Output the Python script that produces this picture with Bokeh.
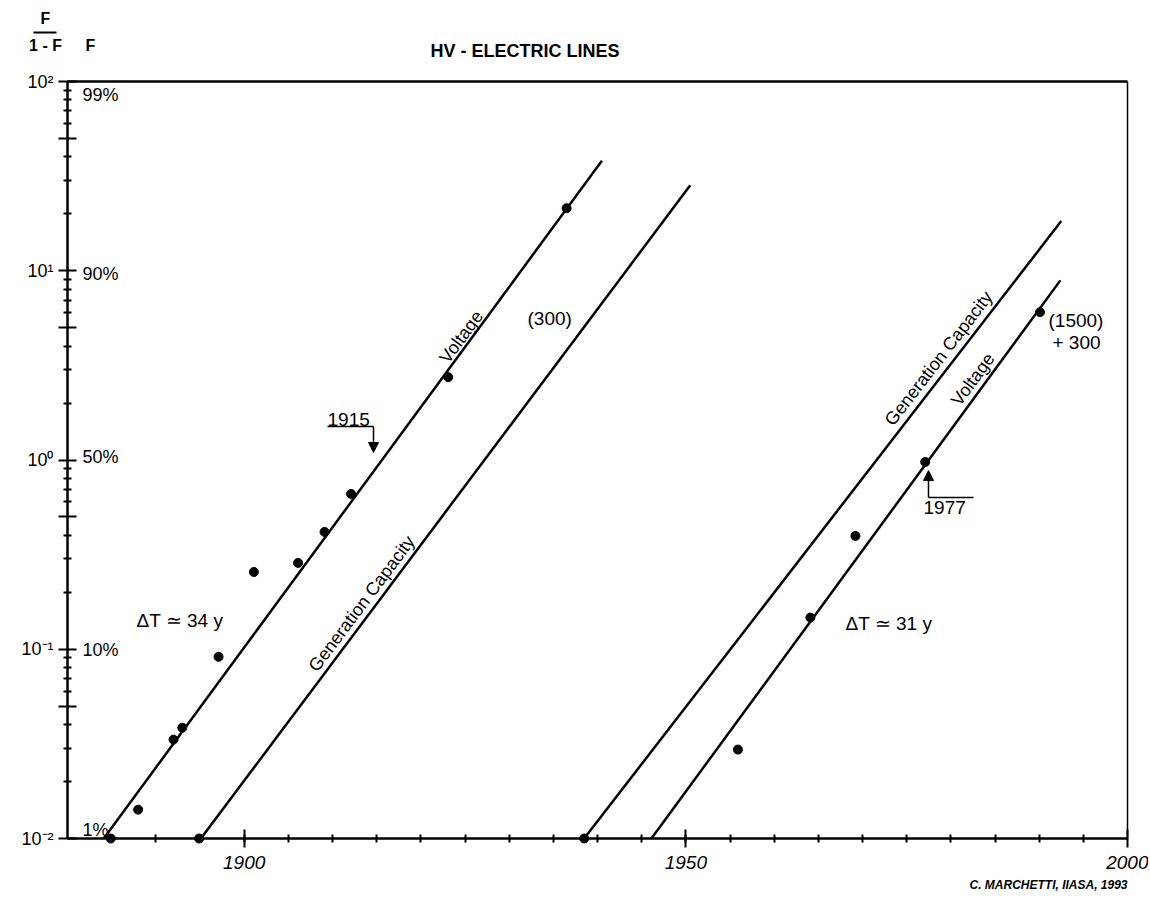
import math
from bokeh.plotting import figure
from bokeh.models import FixedTicker, LinearAxis, LogAxis, Range1d, Arrow, NormalHead, ColumnDataSource
from bokeh.core.properties import value
from bokeh.embed import file_html
from bokeh.resources import INLINE

# ---------------- data ----------------
# observed points, y = F/(1-F)
voltage_early_year = [1884.9, 1888.0, 1892.0, 1893.0, 1897.1, 1901.1, 1906.1, 1909.1, 1912.1, 1923.1, 1936.5]
voltage_early_ratio = [0.0100, 0.0142, 0.0333, 0.0385, 0.0912, 0.256, 0.286, 0.417, 0.662, 2.74, 21.4]
gencap_early_year = [1894.9]
gencap_early_ratio = [0.0100]
gencap_late_year = [1938.5]
gencap_late_ratio = [0.0100]
voltage_late_year = [1955.9, 1964.1, 1969.2, 1977.1, 1990.1]
voltage_late_ratio = [0.0295, 0.147, 0.397, 0.976, 6.04]

# logistic fits: log10(F/(1-F)) = rate * (t - midpoint)
fit_name = ["Voltage", "Generation Capacity", "Generation Capacity", "Voltage"]
fit_midpoint = [1915.6, 1927.2, 1971.6, 1977.5]
fit_rate = [0.0635, 0.0623, 0.0604, 0.0637]
fit_end = [1940.5, 1950.5, 1992.5, 1992.4]
# where each line's name sits along it (year) and its distance from the line (px)
fit_label_year = [1925.4, 1914.4, 1979.8, 1983.6]
fit_label_gap = [9, 12, 13, 12]

# percentage scale (F)
pct_F = [0.99, 0.90, 0.50, 0.10, 0.01]
pct_text = ["99%", "90%", "50%", "10%", "1%"]

x_major = [1900, 1950, 2000]
x_minor = list(range(1885, 2000, 5))
x_labels = {1900: "1900", 1950: "1950", 2000: "2000"}
y_decades = [0.01, 0.1, 1, 10, 100]
y_labels = ["10\u207b\u00b2", "10\u207b\u00b9", "10\u2070", "10\u00b9", "10\u00b2"]

# midpoint markers
mid_years = [1915, 1977]

# ---------------- page geometry ----------------
W, H = 1148, 898
FL, FR, FT, FB = 67, 1127, 81, 838          # pixel box of the plotted area
XMIN, XMAX = 1880, 2000
YMIN, YMAX = 0.01, 100
FONT = "Liberation Sans"

sx = (FR - FL) / (XMAX - XMIN)
sy = (FB - FT) / (math.log10(YMAX) - math.log10(YMIN))


def X(px):
    return XMIN + (px - FL) / sx


def Y(py):
    return 10 ** (math.log10(YMIN) + (FB - py) / sy)


p = figure(x_range=Range1d(X(0), X(W)), y_range=Range1d(Y(H), Y(0)), y_axis_type="log",
           frame_width=W, frame_height=H, min_border=0,
           min_border_left=0, min_border_right=0, min_border_top=0, min_border_bottom=0,
           x_axis_location=None, y_axis_location=None, title=None,
           output_backend="svg", toolbar_location=None,
           background_fill_color="white", border_fill_color="white")
p.outline_line_color = None
for g in p.grid:
    g.visible = False

# bottom axis
xa = LinearAxis(fixed_location=YMIN, bounds=(XMIN, XMAX),
                ticker=FixedTicker(ticks=x_major, minor_ticks=x_minor))
xa.major_label_overrides = x_labels
xa.major_label_text_font = FONT
xa.major_label_text_font_style = "italic"
xa.major_label_text_font_size = "19px"
xa.major_label_text_color = "black"
xa.major_label_standoff = 8
xa.axis_line_width = 2.5
xa.major_tick_in = 9
xa.major_tick_out = 9
xa.minor_tick_in = 4
xa.minor_tick_out = 4
xa.major_tick_line_width = 2
xa.minor_tick_line_width = 2
p.add_layout(xa, "below")

# left axis
y_major = []
for d in y_decades:
    y_major.append(d)
    if d < YMAX:
        y_major.append(5 * d)
y_minor = [m * d for d in y_decades[:-1] for m in (2, 3, 4, 6, 7, 8, 9)]
overrides = {t: "" for t in y_major}
for d, lab in zip(y_decades, y_labels):
    overrides[d] = lab
ya = LogAxis(fixed_location=XMIN, bounds=(YMIN, YMAX),
             ticker=FixedTicker(ticks=y_major, minor_ticks=y_minor))
ya.major_label_overrides = overrides
ya.major_label_text_font = FONT
ya.major_label_text_font_size = "18px"
ya.major_label_text_color = "black"
ya.major_label_standoff = 5
ya.axis_line_width = 2.5
ya.major_tick_in = 9
ya.major_tick_out = 9
ya.minor_tick_in = 4
ya.minor_tick_out = 4
ya.major_tick_line_width = 2
ya.minor_tick_line_width = 2
p.add_layout(ya, "left")

# top and right frame lines
ta = LinearAxis(fixed_location=YMAX, bounds=(XMIN, XMAX), ticker=FixedTicker(ticks=[]),
                major_label_text_font_size="0px", axis_line_width=2.5,
                major_tick_line_color=None, minor_tick_line_color=None)
p.add_layout(ta, "above")
ra = LogAxis(fixed_location=XMAX, bounds=(YMIN, YMAX), ticker=FixedTicker(ticks=[]),
             major_label_text_font_size="0px", axis_line_width=1.5,
             major_tick_line_color=None, minor_tick_line_color=None)
p.add_layout(ra, "right")

# ---------------- fitted lines ----------------
lab = dict(x=[], y=[], text=[], angle=[], dx=[], dy=[])
for name, t0, k, tend, tl, gap in zip(fit_name, fit_midpoint, fit_rate, fit_end,
                                       fit_label_year, fit_label_gap):
    tstart = t0 + math.log10(YMIN) / k
    xs = [tstart, tend]
    ys = [10 ** (k * (t - t0)) for t in xs]
    p.line(xs, ys, line_color="black", line_width=2.5)
    a = math.atan(k * sy / sx)
    lab["x"].append(tl)
    lab["y"].append(10 ** (k * (tl - t0)))
    lab["text"].append(name)
    lab["angle"].append(a)
    lab["dx"].append(-gap * math.sin(a))
    lab["dy"].append(-gap * math.cos(a))

p.text(x="x", y="y", text="text", angle="angle", x_offset="dx", y_offset="dy",
       source=ColumnDataSource(lab),
       text_font=value(FONT), text_font_size="18px", text_align="center", text_baseline="middle",
       text_color="black")

# ---------------- points ----------------
for xs, ys in [(voltage_early_year, voltage_early_ratio), (gencap_early_year, gencap_early_ratio),
               (gencap_late_year, gencap_late_ratio), (voltage_late_year, voltage_late_ratio)]:
    p.scatter(xs, ys, size=9, color="black")

# ---------------- percentage labels ----------------
pct_src = ColumnDataSource(dict(
    x=[X(82)] * len(pct_F),
    y=[f / (1 - f) for f in pct_F],
    text=pct_text,
    dy=[13, -5, -3, 9, -8],
))
p.text(x="x", y="y", text="text", y_offset="dy", source=pct_src,
       text_font=value(FONT), text_font_size="18px", text_baseline="middle", text_align="left",
       text_color="black")

# ---------------- notes ----------------
notes_src = ColumnDataSource(dict(
    x=[X(527), X(1048), X(1052), X(136), X(845)],
    y=[Y(318), Y(320), Y(342), Y(620), Y(623)],
    text=["(300)", "(1500)", "+ 300", "\u0394T \u2243 34 y", "\u0394T \u2243 31 y"],
))
p.text(x="x", y="y", text="text", source=notes_src,
       text_font=value(FONT), text_font_size="19px", text_align="left", text_baseline="middle",
       text_color="black")

# ---------------- midpoint arrows ----------------
arrow_x = [X(373), X(928)]
arrow_from = [Y(426), Y(497)]
arrow_to = [Y(452), Y(470)]
under_to = [X(327), X(973)]
for ax_, a0, a1, u1 in zip(arrow_x, arrow_from, arrow_to, under_to):
    p.line([u1, ax_], [a0, a0], line_color="black", line_width=1.5)
    p.add_layout(Arrow(x_start=ax_, y_start=a0, x_end=ax_, y_end=a1,
                       end=NormalHead(size=10, fill_color="black", line_color="black", line_width=1),
                       line_width=1.5, line_color="black"))
p.text(x=[X(327), X(923)], y=[Y(426), Y(500)], text=[str(m) for m in mid_years],
       text_baseline=["bottom", "top"], y_offset=[-1, 0],
       text_font=value(FONT), text_font_size="19px", text_align="left", text_color="black")

# ---------------- title & caption ----------------
p.text(x=[X(430)], y=[Y(50)], text=["HV - ELECTRIC LINES"],
       text_font=value(FONT), text_font_size="18px", text_font_style="bold",
       text_align="left", text_baseline="middle", text_color="black")
p.text(x=[X(45), X(45), X(90)], y=[Y(18), Y(45), Y(45)], text=["F", "1 - F", "F"],
       text_font=value(FONT), text_font_size="16px", text_font_style="bold",
       text_align="center", text_baseline="middle", text_color="black")
p.line([X(33), X(56)], [Y(32), Y(32)], line_color="black", line_width=2)

# credit
p.text(x=[X(1127)], y=[Y(884)], text=["C. MARCHETTI, IIASA, 1993"],
       text_font=value(FONT), text_font_size="12px", text_font_style="bold italic",
       text_align="right", text_baseline="middle", text_color="black")

open("out.html", "w").write(file_html(p, INLINE))
